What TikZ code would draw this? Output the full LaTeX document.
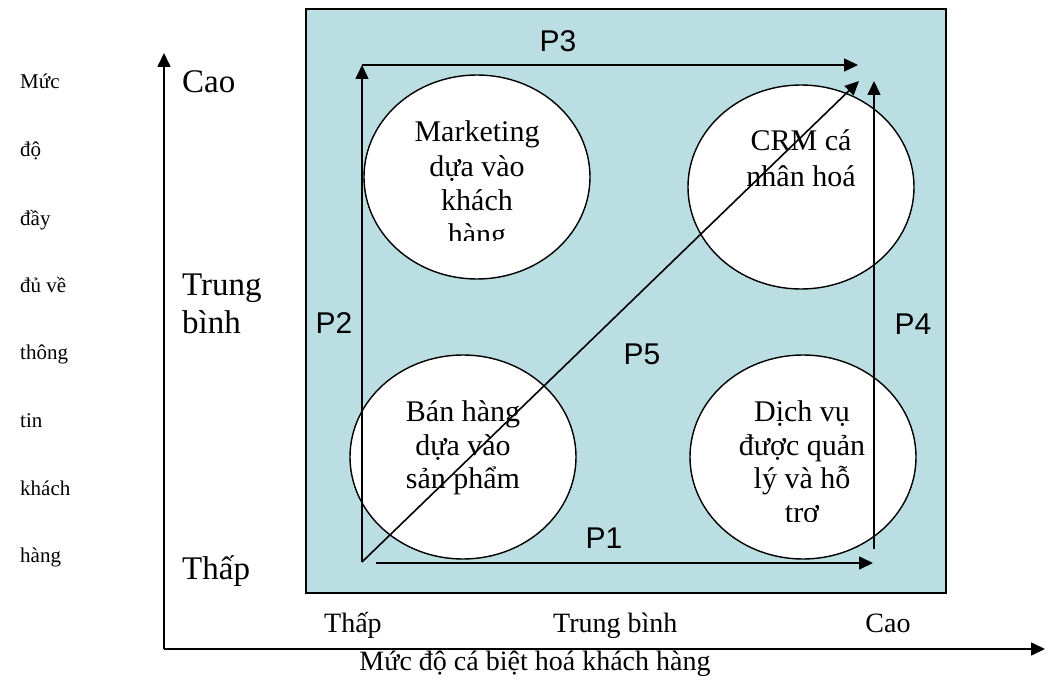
\documentclass[tikz,border=0pt]{standalone}
\usepackage{fontspec}
\setmainfont{Liberation Serif}
\newfontfamily\arialfont{Liberation Sans}
\usetikzlibrary{arrows.meta,shapes.geometric}
\definecolor{panelblue}{RGB}{186,222,226}

\begin{document}
\begin{tikzpicture}[x=1pt,y=-1pt,
  conn/.style={line width=1.6pt,-{Triangle[length=14pt,width=13pt]}},
  bubble/.style={ellipse,draw,fill=white,line width=1.4pt,
    minimum width=226pt,minimum height=204pt,inner sep=0pt},
  pathlabel/.style={font=\arialfont\fontsize{30}{36}\selectfont,anchor=base,inner sep=0pt},
  bubbletext/.style={font=\fontsize{30}{36}\selectfont,anchor=base,inner sep=0pt},
  levelY/.style={font=\fontsize{33}{40}\selectfont,anchor=base west,inner sep=0pt},
  levelX/.style={font=\fontsize{28}{34}\selectfont,anchor=base,inner sep=0pt},
  sidetext/.style={font=\fontsize{21}{25}\selectfont,anchor=base west,inner sep=0pt}
]
\useasboundingbox (0,0) rectangle (1050,682);

% coloured panel
\node (panel) [draw,fill=panelblue,line width=1.6pt,anchor=north west,
  minimum width=640pt,minimum height=584pt,inner sep=0pt] at (305,8) {};

% axes
\coordinate (origin) at (164,649);
\coordinate (ytop) at (164,53);
\coordinate (xend) at (1045,649);
\draw[conn] (origin) -- (ytop);
\draw[conn] (origin) -- (xend);

% vertical axis title, one word per line
\foreach \txt/\yb [count=\i] in {Mức/89,độ/157,đầy/225,đủ về/292,thông/359,tin/427,khách/495,hàng/562}
  \node[sidetext] (side-\i) at (20,\yb) {\txt};

% level labels on the vertical axis
\node[levelY] (y-high) at (182,93) {Cao};
\node[levelY] (y-mid1) at (182,295) {Trung};
\node[levelY] (y-mid2) at (182,333) {bình};
\node[levelY] (y-low) at (182,579) {Thấp};

% level labels on the horizontal axis
\node[levelX,anchor=base west] (x-low) at (324,632) {Thấp};
\node[levelX,anchor=base west] (x-mid) at (553,632) {Trung bình};
\node[levelX] (x-high) at (888,632) {Cao};
\node[levelX] (x-title) at (535,670) {Mức độ cá biệt hoá khách hàng};

% the four strategies
\node[bubble] (mk) at (477,177) {};
\node[bubble] (crm) at (801,187) {};
\node[bubble] (bh) at (463,457) {};
\node[bubble] (dv) at (803,457) {};

\begin{scope}
  \clip (300,60) rectangle (660,240);
  \foreach \txt/\yb [count=\i] in {Marketing/142,dựa vào/176,khách/210,hàng/244}
    \node[bubbletext] (mk-\i) at (477,\yb) {\txt};
\end{scope}
\foreach \txt/\yb [count=\i] in {CRM cá/150,nhân hoá/186}
  \node[bubbletext] (crm-\i) at (801,\yb) {\txt};
\foreach \txt/\yb [count=\i] in {Bán hàng/421,dựa vào/455,sản phẩm/488}
  \node[bubbletext] (bh-\i) at (463,\yb) {\txt};
\begin{scope}
  \clip (680,340) rectangle (930,521);
  \foreach \txt/\yb [count=\i] in {Dịch vụ/421,được quản/455,lý và hỗ/488,trợ/522}
    \node[bubbletext] (dv-\i) at (802,\yb) {\txt};
\end{scope}

% migration paths
\coordinate (start) at (362,562);
\coordinate (p2end) at (362,65);
\coordinate (p3end) at (858,65);
\coordinate (p5end) at (859,81);
\coordinate (p4start) at (874,549);
\coordinate (p4end) at (874,81);
\coordinate (p1start) at (376,563);
\coordinate (p1end) at (873,563);

\draw[conn] (start) -- (p2end);
\draw[conn] (p2end) -- (p3end);
\draw[conn] (start) -- (p5end);
\draw[conn] (p4start) -- (p4end);
\draw[conn] (p1start) -- (p1end);

\node[pathlabel] (lbl-p1) at (604,548) {P1};
\node[pathlabel] (lbl-p2) at (334,333) {P2};
\node[pathlabel] (lbl-p3) at (558,52) {P3};
\node[pathlabel] (lbl-p4) at (913,334) {P4};
\node[pathlabel] (lbl-p5) at (642,364) {P5};
\end{tikzpicture}
\end{document}
